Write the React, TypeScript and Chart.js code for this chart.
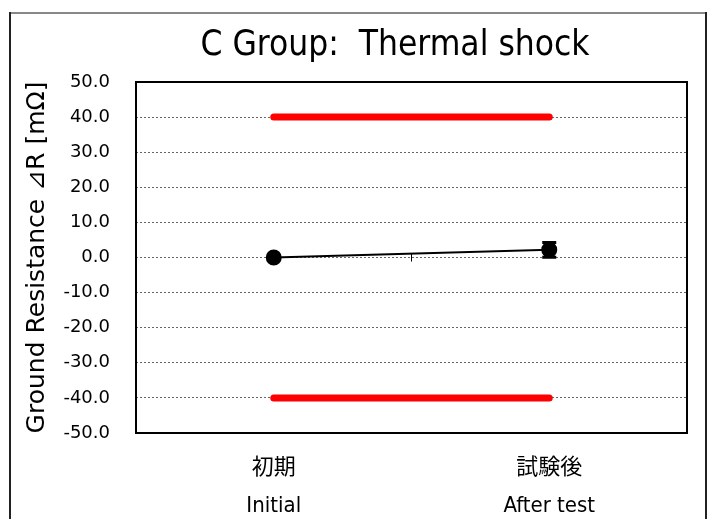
import React, { useEffect, useRef } from "react";
import { Chart, registerables } from "chart.js";

Chart.register(...registerables);

const categories: string[][] = [["初期", "Initial"], ["試験後", "After test"]];
const measured: number[] = [0, 2.2];
const errLow: number[] = [0, 2.1];
const errHigh: number[] = [0, 2.1];
const upperLimit: number[] = [40, 40];
const lowerLimit: number[] = [-40, -40];
const yMin = -50;
const yMax = 50;
const yStep = 10;
const titleText = "C Group:  Thermal shock";
const yTitleText = "Ground Resistance \u22BFR [mΩ]";

const condensed = '"DejaVu Sans Condensed", "Noto Sans CJK JP", sans-serif';
const sans = '"DejaVu Sans", "Noto Sans CJK JP", sans-serif';

const decorPlugin = {
  id: "decor",
  beforeDraw(chart: any) {
    const ctx = chart.ctx;
    ctx.save();
    ctx.fillStyle = "#ffffff";
    ctx.fillRect(0, 0, chart.width, chart.height);
    ctx.lineWidth = 2;
    ctx.strokeStyle = "#888888";
    ctx.beginPath();
    ctx.moveTo(10, 13);
    ctx.lineTo(706, 13);
    ctx.stroke();
    ctx.strokeStyle = "#222222";
    ctx.beginPath();
    ctx.moveTo(10, 12);
    ctx.lineTo(10, chart.height);
    ctx.moveTo(706, 12);
    ctx.lineTo(706, chart.height);
    ctx.stroke();
    ctx.restore();
  },
  afterDatasetsDraw(chart: any) {
    const ctx = chart.ctx;
    const x = chart.scales.x;
    const y = chart.scales.y;
    const area = chart.chartArea;
    ctx.save();
    const bx = (x.getPixelForValue(0) + x.getPixelForValue(1)) / 2;
    const y0 = y.getPixelForValue(0);
    ctx.strokeStyle = "#000";
    ctx.lineWidth = 1;
    ctx.beginPath();
    ctx.moveTo(bx, y0 - 4);
    ctx.lineTo(bx, y0 + 4);
    ctx.stroke();
    measured.forEach((v, i) => {
      if (errLow[i] === 0 && errHigh[i] === 0) return;
      const px = x.getPixelForValue(i);
      const pl = y.getPixelForValue(v - errLow[i]);
      const ph = y.getPixelForValue(v + errHigh[i]);
      ctx.lineWidth = 2;
      ctx.beginPath();
      ctx.moveTo(px, pl);
      ctx.lineTo(px, ph);
      ctx.stroke();
      ctx.lineWidth = 3;
      ctx.beginPath();
      ctx.moveTo(px - 7, pl);
      ctx.lineTo(px + 7, pl);
      ctx.moveTo(px - 7, ph);
      ctx.lineTo(px + 7, ph);
      ctx.stroke();
    });
    ctx.strokeStyle = "#000";
    ctx.lineWidth = 2;
    ctx.strokeRect(area.left, area.top, area.right - area.left, area.bottom - area.top);
    ctx.restore();
  },
  afterDraw(chart: any) {
    const ctx = chart.ctx;
    const area = chart.chartArea;
    ctx.save();
    ctx.fillStyle = "#000";
    ctx.textAlign = "center";
    ctx.textBaseline = "middle";
    ctx.font = "35px " + condensed;
    ctx.fillText(titleText, 395, 46);
    ctx.translate(37, (area.top + area.bottom) / 2);
    ctx.rotate(-Math.PI / 2);
    ctx.font = "25px " + sans;
    ctx.fillText(yTitleText, 0, 0);
    ctx.restore();
  },
};

export default function App() {
  const ref = useRef<HTMLCanvasElement | null>(null);
  useEffect(() => {
    document.body.style.margin = "0";
    const canvas = ref.current!;
    const chart = new Chart(canvas, {
      type: "line",
      data: {
        labels: categories as any,
        datasets: [
          {
            data: measured,
            borderColor: "#000",
            backgroundColor: "#000",
            borderWidth: 2,
            pointRadius: 7,
            pointHoverRadius: 7,
            pointBackgroundColor: "#000",
            pointBorderColor: "#000",
            order: 0,
          },
          {
            data: upperLimit,
            borderColor: "#ff0000",
            borderWidth: 7,
            borderCapStyle: "round",
            pointRadius: 0,
            order: 1,
          },
          {
            data: lowerLimit,
            borderColor: "#ff0000",
            borderWidth: 7,
            borderCapStyle: "round",
            pointRadius: 0,
            order: 1,
          },
        ],
      },
      options: {
        animation: false,
        responsive: false,
        events: [],
        layout: { padding: { top: 82, right: 23, left: 0, bottom: 0 } },
        plugins: {
          legend: { display: false },
          title: { display: false },
          tooltip: { enabled: false },
        },
        scales: {
          x: {
            offset: true,
            grid: { display: false, drawTicks: false },
            border: { display: false },
            ticks: {
              color: "#000",
              font: { size: 22, family: condensed, lineHeight: 1.73 },
              padding: 16,
              maxRotation: 0,
            },
            afterFit(scale: any) {
              scale.height = 86;
            },
          },
          y: {
            min: yMin,
            max: yMax,
            grid: {
              color: "#666",
              lineWidth: 1,
              drawTicks: false,
            },
            border: { display: false, dash: [2, 2] },
            ticks: {
              stepSize: yStep,
              color: "#000",
              font: { size: 18, family: sans },
              padding: 26,
              callback: (v: any) => Number(v).toFixed(1),
            },
            afterFit(scale: any) {
              scale.width = 136;
            },
          },
        },
      },
      plugins: [decorPlugin],
    });
    return () => chart.destroy();
  }, []);
  return (
    <canvas ref={ref} width={710} height={519} style={{ display: "block", width: 710, height: 519 }} />
  );
}
